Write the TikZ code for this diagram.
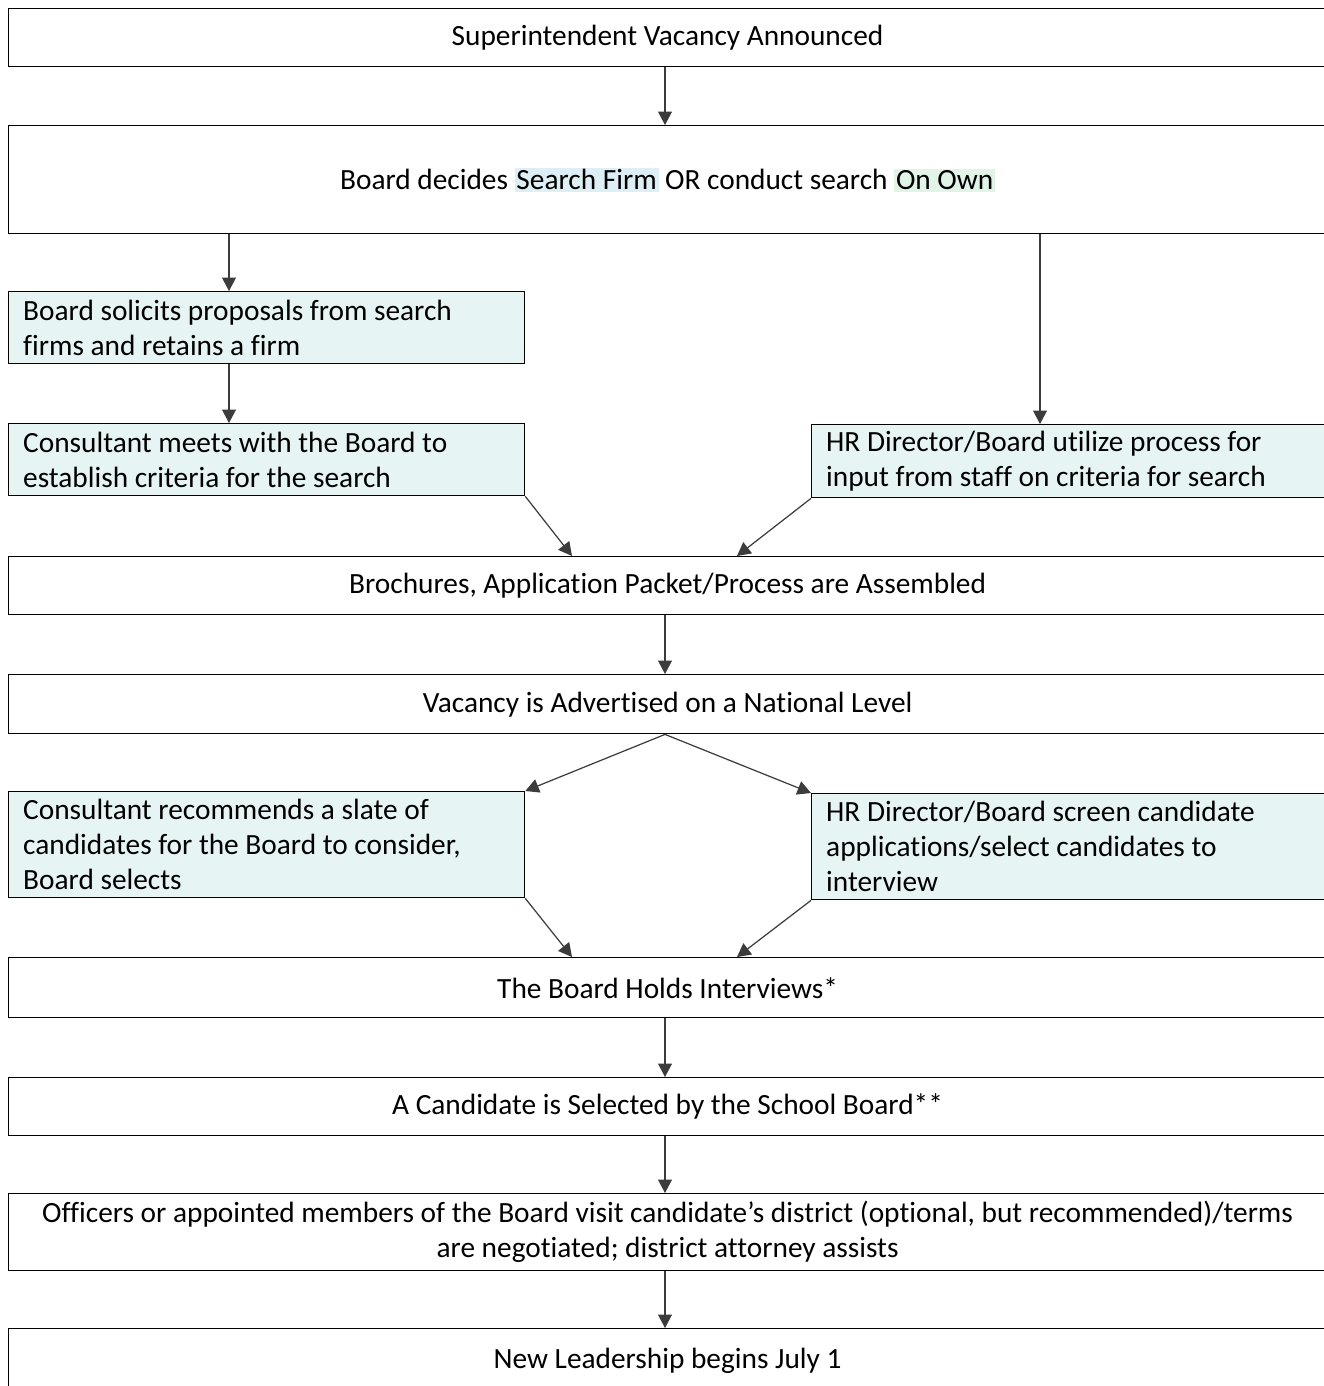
\documentclass[tikz,border=0pt]{standalone}
\usepackage{fontspec}
\setmainfont{Carlito}[Ligatures=NoCommon]
\usetikzlibrary{arrows.meta}
\definecolor{sidefill}{RGB}{231,244,244}
\definecolor{hlblue}{RGB}{221,238,244}
\definecolor{hlgreen}{RGB}{226,243,232}
\definecolor{arrgray}{RGB}{60,60,60}
\setlength{\fboxsep}{1pt}

\begin{document}
\begin{tikzpicture}[x=0.02cm,y=-0.02cm,
  box/.style={draw, line width=0.8pt, anchor=north west, inner sep=0pt,
    font=\fontsize{16.7}{20}\selectfont},
  wide/.style={box, minimum width=26.36cm, align=center},
  side/.style={box, fill=sidefill, text width=9.74cm, inner xsep=0.29cm, align=flush left},
  arr/.style={draw=arrgray, line width=0.7pt, -{Triangle[length=0.27cm,width=0.28cm]}}]
  \useasboundingbox (0,0) rectangle (1324,1386);
  % columns used by the arrows
  \coordinate (cx) at (665,0);
  \coordinate (lx) at (229,0);
  \coordinate (rx) at (1040,0);
  \coordinate (ml) at (572,0);
  \coordinate (mr) at (737,0);
  % Steps
  \node[wide, minimum height=1.16cm] (vac) at (8,8) {Superintendent Vacancy Announced};
  \node[wide, minimum height=2.16cm] (board) at (8,125)
    {Board decides \colorbox{hlblue}{Search Firm} OR conduct search \colorbox{hlgreen}{On Own}};
  \node[side, minimum height=1.44cm] (solicit) at (8,291)
    {Board solicits proposals from search\\firms and retains a firm};
  \node[side, minimum height=1.44cm] (meets) at (8,423)
    {Consultant meets with the Board to\\establish criteria for the search};
  \node[side, minimum height=1.46cm] (input) at (811,424)
    {HR Director/Board utilize process for\\input from staff on criteria for search};
  \node[wide, minimum height=1.16cm] (bro) at (8,556)
    {Brochures, Application Packet/Process are Assembled};
  \node[wide, minimum height=1.18cm] (adv) at (8,674) {Vacancy is Advertised on a National Level};
  \node[side, minimum height=2.12cm] (slate) at (8,791)
    {Consultant recommends a slate of\\candidates for the Board to consider,\\Board selects};
  \node[side, minimum height=2.12cm] (screen) at (811,793)
    {HR Director/Board screen candidate\\applications/select candidates to\\interview};
  \node[wide, minimum height=1.2cm] (intv) at (8,957) {The Board Holds Interviews*};
  \node[wide, minimum height=1.16cm] (sel) at (8,1077) {A Candidate is Selected by the School Board**};
  \node[wide, minimum height=1.54cm] (visit) at (8,1193)
    {Officers or appointed members of the Board visit candidate’s district (optional, but recommended)/terms\\are negotiated; district attorney assists};
  \node[wide, minimum height=1.28cm] (lead) at (8,1328) {New Leadership begins July 1};
  % Arrows down the middle
  \foreach \a/\b in {vac/board, bro/adv, intv/sel, sel/visit, visit/lead}
    \draw[arr] (\a.south -| cx) -- (\b.north -| cx);
  % Search firm branch and own branch
  \draw[arr] (board.south -| lx) -- (solicit.north -| lx);
  \draw[arr] (solicit.south -| lx) -- (meets.north -| lx);
  \draw[arr] (board.south -| rx) -- (input.north -| rx);
  \draw[arr] (meets.south east) -- (bro.north -| ml);
  \draw[arr] (input.south west) -- (bro.north -| mr);
  \draw[arr] (adv.south -| cx) -- (slate.north east);
  \draw[arr] (adv.south -| cx) -- (screen.north west);
  \draw[arr] (slate.south east) -- (intv.north -| ml);
  \draw[arr] (screen.south west) -- (intv.north -| mr);
\end{tikzpicture}
\end{document}
